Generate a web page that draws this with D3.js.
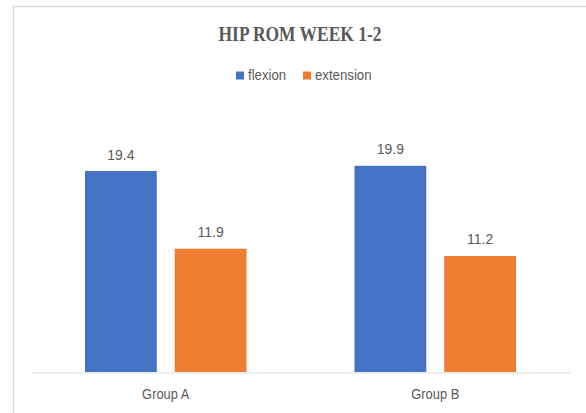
<!DOCTYPE html>
<html><head><meta charset="utf-8">
<script src="https://cdn.jsdelivr.net/npm/d3@7"></script>
<style>body{margin:0;background:#fff}</style>
</head><body>
<svg id="c" width="586" height="413"></svg>
<script>
const categories = ["Group A", "Group B"];
const seriesNames = ["flexion", "extension"];
const flexion = [19.4, 19.9];
const extension = [11.9, 11.2];
const colors = ["#4472C4", "#ED7D31"];
const title = "HIP ROM WEEK 1-2";

const svg = d3.select("#c");
const sans = "'Liberation Sans', Arial, sans-serif";
const gray = "#595959";

// horizontally condense text to mimic the narrow reference glyphs
function squeeze(sel, f) {
  sel.each(function() {
    const w = this.getComputedTextLength();
    d3.select(this).attr("textLength", w * f).attr("lengthAdjust", "spacingAndGlyphs");
  });
}

// chart border
svg.append("path").attr("d","M13.5,413 V6.5 H586").attr("fill","none").attr("stroke","#d9d9d9").attr("stroke-width",1.5);

const x0 = d3.scaleBand().domain(categories).range([31, 570]).paddingInner(0).paddingOuter(0);
const x1 = d3.scaleBand().domain(seriesNames).range([54, x0.bandwidth()-54]).paddingInner(0.2);
const y = d3.scaleLinear().domain([0, 25]).range([372, 113]);

const data = categories.map((c,i)=>({cat:c, vals:[flexion[i], extension[i]]}));

const g = svg.append("g");
const groups = g.selectAll("g.grp").data(data).join("g").attr("transform", d=>`translate(${x0(d.cat)},0)`);
groups.selectAll("rect").data(d=>d.vals.map((v,j)=>({s:seriesNames[j], v, j})))
  .join("rect")
  .attr("x", d=>x1(d.s)).attr("width", x1.bandwidth())
  .attr("y", d=>y(d.v)).attr("height", d=>y(0)-y(d.v))
  .attr("fill", d=>colors[d.j]);
const vals = groups.selectAll("text.val").data(d=>d.vals.map((v,j)=>({s:seriesNames[j], v, j})))
  .join("text").attr("class","val")
  .attr("x", d=>x1(d.s)+x1.bandwidth()/2).attr("y", d=>y(d.v)-11.5)
  .attr("text-anchor","middle").attr("fill",gray)
  .style("font-family", sans).style("font-size","15px")
  .text(d=>d.v.toFixed(1));
squeeze(vals, 0.93);

// x axis
const xAxis = d3.axisBottom(x0).tickSize(0).tickPadding(17);
const ax = svg.append("g").attr("transform","translate(0,372.5)").call(xAxis);
ax.select(".domain").attr("stroke","#d9d9d9").attr("stroke-width",1.2);
ax.selectAll("text").attr("fill",gray).style("font-family",sans).style("font-size","14px");
squeeze(ax.selectAll("text"), 0.92);

// title
const t = svg.append("text").attr("x",300).attr("y",40.7).attr("text-anchor","middle")
  .attr("fill",gray).style("font-family","'Liberation Serif','DejaVu Serif',serif")
  .style("font-weight","bold").style("font-size","21px").text(title);
squeeze(t, 0.83);

// legend
const legendItems = [{name:seriesNames[0], x:236},{name:seriesNames[1], x:303}];
const lg = svg.append("g");
legendItems.forEach((it,i)=>{
  lg.append("rect").attr("x",it.x).attr("y",71.5).attr("width",8).attr("height",8).attr("fill",colors[i]);
  const lt = lg.append("text").attr("x",it.x+12).attr("y",80.3).attr("fill",gray)
    .style("font-family",sans).style("font-size","15px").text(it.name);
  squeeze(lt, 0.88);
});
</script>
</body></html>
